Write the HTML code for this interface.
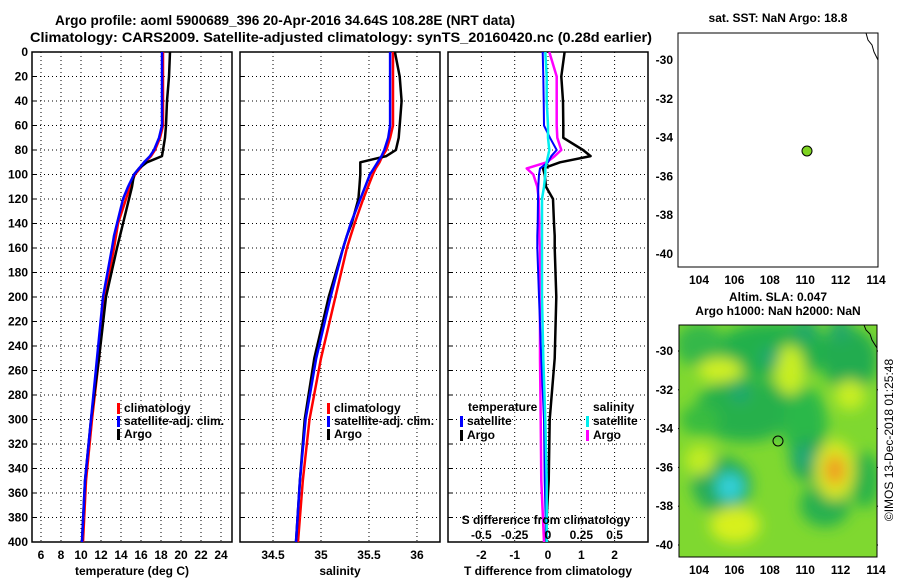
<!DOCTYPE html>
<html><head><meta charset="utf-8"><style>
body{margin:0;background:#fff}
svg{display:block;font-family:"Liberation Sans",sans-serif;font-weight:bold}
text{font-size:12px;fill:#000}
</style></head><body>
<svg id="s" width="900" height="580" viewBox="0 0 900 580">
<defs>
<filter id="bl" x="-50%" y="-50%" width="200%" height="200%"><feGaussianBlur stdDeviation="7"/></filter>
<clipPath id="mc"><rect x="679" y="325" width="198" height="232"/></clipPath>
</defs>
<text x="55" y="25" textLength="460" lengthAdjust="spacingAndGlyphs" style="font-size:14px">Argo profile: aoml 5900689_396 20-Apr-2016 34.64S 108.28E (NRT data)</text>
<text x="30" y="42" textLength="622" lengthAdjust="spacingAndGlyphs" style="font-size:14px">Climatology: CARS2009. Satellite-adjusted climatology: synTS_20160420.nc (0.28d earlier)</text>
<g id="g"></g>
<rect x="678" y="33" width="200" height="234" fill="#fff" stroke="#000"/>
<text x="778" y="22" text-anchor="middle">sat. SST: NaN Argo: 18.8</text>
<path d="M866 33 L868 40 L872 45 L874 52 L878 60" fill="none" stroke="#000"/>
<circle cx="807" cy="151" r="5" fill="#7ed321" stroke="#000"/>
<text x="778" y="301" text-anchor="middle">Altim. SLA: 0.047</text>
<text x="778" y="315" text-anchor="middle">Argo h1000: NaN h2000: NaN</text>
<g clip-path="url(#mc)">
<rect x="679" y="325" width="198" height="232" fill="#7fd830"/>
<g filter="url(#bl)">
<ellipse cx="775" cy="350" rx="60" ry="28" fill="#24b04c"/>
<ellipse cx="700" cy="345" rx="25" ry="22" fill="#34b848"/>
<ellipse cx="850" cy="360" rx="28" ry="32" fill="#24ac50"/>
<ellipse cx="745" cy="410" rx="50" ry="32" fill="#26b04c"/>
<ellipse cx="805" cy="425" rx="22" ry="38" fill="#2cb848"/>
<ellipse cx="810" cy="460" rx="20" ry="22" fill="#20a858"/>
<ellipse cx="722" cy="485" rx="30" ry="28" fill="#26ac58"/>
<ellipse cx="825" cy="505" rx="25" ry="22" fill="#26b050"/>
<ellipse cx="865" cy="480" rx="15" ry="28" fill="#2cb448"/>
<ellipse cx="700" cy="420" rx="20" ry="15" fill="#38bc40"/>
<ellipse cx="720" cy="370" rx="22" ry="12" fill="#d0f020"/>
<ellipse cx="735" cy="525" rx="25" ry="18" fill="#d8f01c"/>
<ellipse cx="790" cy="370" rx="15" ry="25" fill="#c8ee20"/>
<ellipse cx="850" cy="395" rx="15" ry="15" fill="#c8ee20"/>
<ellipse cx="700" cy="460" rx="15" ry="15" fill="#c0ec22"/>
<ellipse cx="835" cy="470" rx="20" ry="30" fill="#d8e820"/>
<ellipse cx="835" cy="470" rx="10" ry="15" fill="#f09a20"/>
<ellipse cx="730" cy="487" rx="14" ry="14" fill="#30d0d8"/>
<ellipse cx="806" cy="330" rx="12" ry="12" fill="#22a868"/>
<ellipse cx="840" cy="330" rx="12" ry="12" fill="#22a868"/>
<ellipse cx="770" cy="357" rx="10" ry="10" fill="#20a870"/>
<ellipse cx="740" cy="393" rx="10" ry="10" fill="#20a870"/>
<ellipse cx="804" cy="457" rx="10" ry="10" fill="#20a878"/>
</g>
</g>
<rect x="679" y="325" width="198" height="232" fill="none" stroke="#000"/>
<path d="M864 325 L866 330 L870 334 L872 340 L877 348" fill="none" stroke="#000"/>
<circle cx="778" cy="441" r="5" fill="none" stroke="#000"/>
<text x="893" y="440" text-anchor="middle" transform="rotate(-90 893 440)" style="font-weight:normal;font-size:12px">©IMOS 13-Dec-2018 01:25:48</text>
</svg>
<script>
const depths=[0,20,40,60,70,80,85,90,95,100,110,120,140,150,160,200,250,300,350,400];
const tClim=[18.2,18.2,18.2,18.2,17.9,17.4,17.0,16.4,15.9,15.4,14.9,14.5,13.7,13.5,13.3,12.4,11.8,11.1,10.5,10.2];
const tSat=[18.1,18.1,18.1,18.1,17.8,17.3,16.9,16.3,15.8,15.3,14.7,14.2,13.6,13.3,13.1,12.2,11.6,11.0,10.4,10.1];
const tArgo=[18.9,18.8,18.6,18.5,18.4,18.2,18.1,16.6,15.8,15.3,15.1,14.8,14.2,13.9,13.6,12.5,11.8,11.0,10.4,10.1];
const sClim=[35.75,35.75,35.75,35.75,35.72,35.68,35.64,35.61,35.57,35.54,35.49,35.44,35.35,35.31,35.27,35.15,35.0,34.88,34.81,34.76];
const sSat=[35.72,35.72,35.72,35.72,35.70,35.66,35.63,35.59,35.55,35.51,35.46,35.41,35.31,35.27,35.23,35.1,34.95,34.84,34.78,34.74];
const sArgo=[35.77,35.82,35.84,35.82,35.81,35.78,35.68,35.41,35.41,35.41,35.40,35.39,35.32,35.27,35.23,35.08,34.93,34.83,34.78,34.74];
const dtSat=[-0.16,-0.14,-0.13,-0.12,0.06,0.26,0.1,0.0,-0.24,-0.27,-0.29,-0.3,-0.31,-0.32,-0.32,-0.27,-0.2,-0.12,-0.1,-0.05];
const dtArgo=[0.5,0.4,0.45,0.46,0.46,1.05,1.28,0.36,-0.15,-0.1,-0.06,0.15,0.18,0.2,0.2,0.25,0.2,0.05,0.02,-0.08];
const dsSat=[-0.02,-0.01,-0.01,0.0,0.0,0.01,0.0,-0.01,-0.02,-0.02,-0.03,-0.045,-0.045,-0.045,-0.045,-0.045,-0.035,-0.02,-0.01,-0.01];
const dsArgo=[0.01,0.065,0.065,0.065,0.07,0.1,0.05,-0.01,-0.16,-0.11,-0.08,-0.07,-0.065,-0.065,-0.06,-0.06,-0.06,-0.055,-0.05,-0.03];
const depthTicks=[0,20,40,60,80,100,120,140,160,180,200,220,240,260,280,300,320,340,360,380,400];
const tTicks=[6,8,10,12,14,16,18,20,22,24];
const sTicks=[34.5,35,35.5,36];
const dTTicks=[-2,-1,0,1,2];
const dSTicks=[-0.5,-0.25,0,0.25,0.5];
const lonTicks=[104,106,108,110,112,114];
const latTicks=[-30,-32,-34,-36,-38,-40];

const NS='http://www.w3.org/2000/svg';
const G=document.getElementById('g');
function mk(tag,a,p){const e=document.createElementNS(NS,tag);for(const k in a)e.setAttribute(k,a[k]);(p||G).appendChild(e);return e;}
function txt(x,y,s,anchor,p){const e=mk('text',{x:x,y:y,'text-anchor':anchor||'middle'},p);e.textContent=s;return e;}
const yD=d=>52+d*1.225;
function lin(d0,d1,r0,r1){return v=>r0+(v-d0)/(d1-d0)*(r1-r0);}
const panels=[
 {x0:32,x1:232,sc:lin(5.1,25.1,32,232),ticks:tTicks,lab:'temperature (deg C)',name:'temperature-panel'},
 {x0:240,x1:440,sc:lin(34.156,36.24,240,440),ticks:sTicks,lab:'salinity',name:'salinity-panel'},
 {x0:448,x1:648,sc:lin(0,1,548,581.3),ticks:dTTicks,lab:'T difference from climatology',name:'difference-panel'}];
panels.forEach((P,i)=>{
 const g=mk('g',{});
 
 
 depthTicks.forEach(d=>{
  if(d>0&&d<400){const l=mk('line',{x1:P.x0,x2:P.x1,y1:yD(d),y2:yD(d),stroke:'#000','stroke-dasharray':'1 3'},g);
  }
  mk('line',{x1:P.x0,x2:P.x0+4,y1:yD(d),y2:yD(d),stroke:'#000'},g);
  if(i==0){const t=txt(28,yD(d)+4,d,'end',g);}
 });
 P.ticks.forEach(v=>{const x=P.sc(v);
  const l=mk('line',{x1:x,x2:x,y1:52,y2:542,stroke:'#000','stroke-dasharray':'1 3'},g);
  
  const t=txt(x,559,v,'middle',g);});
 const r=mk('rect',{x:P.x0,y:52,width:P.x1-P.x0,height:490,fill:'none',stroke:'#000','stroke-width':1.5},g);
 
 const t=txt((P.x0+P.x1)/2,575,P.lab,'middle',g);
});
function line(vals,sc,col,w,name){
 const pts=vals.map((v,k)=>sc(v).toFixed(1)+','+yD(depths[k]).toFixed(1)).join(' ');
 const e=mk('polyline',{points:pts,fill:'none',stroke:col,'stroke-width':w,'stroke-linejoin':'round'});
 
 
}
const sT=panels[0].sc,sS=panels[1].sc,sD=panels[2].sc,sDS=lin(0,1,548,681.3);
line(tClim,sT,'#f00',2.5,'temp-climatology-line');
line(tArgo,sT,'#000',2.5,'temp-argo-line');
line(tSat,sT,'#00f',2.5,'temp-satellite-line');
line(sClim,sS,'#f00',2.5,'sal-climatology-line');
line(sArgo,sS,'#000',2.5,'sal-argo-line');
line(sSat,sS,'#00f',2.5,'sal-satellite-line');
line(dtArgo,sD,'#000',2.5,'tdiff-argo-line');
line(dsArgo,sDS,'#f0f',2.5,'sdiff-argo-line');
line(dtSat,sD,'#00f',2,'tdiff-satellite-line');
line(dsSat,sDS,'#0ee',2.5,'sdiff-satellite-line');
function leg(x,y,col,s,name){const r=mk('rect',{x:x,y:y-9,width:3,height:11,fill:col});
 
 const t=txt(x+7,y,s,'start');}
leg(117,412,'#f00','climatology','legend-climatology');
leg(117,425,'#00f','satellite-adj. clim.','legend-satellite');
leg(117,438,'#000','Argo','legend-argo');
leg(327,412,'#f00','climatology','legend-sal-climatology');
leg(327,425,'#00f','satellite-adj. clim.','legend-sal-satellite');
leg(327,438,'#000','Argo','legend-sal-argo');
let t=txt(468,411,'temperature','start');
leg(460,425,'#00f','satellite','legend-tdiff-satellite');
leg(460,439,'#000','Argo','legend-tdiff-argo');
t=txt(593,411,'salinity','start');
leg(586,425,'#0ee','satellite','legend-sdiff-satellite');
leg(586,439,'#f0f','Argo','legend-sdiff-argo');
t=txt(546,524,'S difference from climatology');
dSTicks.forEach(v=>{const e=txt(sDS(v),539,v);});
const lonS1=lin(104,114,699,876),latS1=lin(-30,-40,60,254);
const lonS2=lin(104,114,699,876),latS2=lin(-30,-40,351,545);
[[lonS1,latS1,267,33,'sst'],[lonS2,latS2,557,325,'sla']].forEach(([lx,ly,yb,yt,n])=>{
 lonTicks.forEach(v=>{const x=lx(v);mk('line',{x1:x,x2:x,y1:yb,y2:yb-4,stroke:'#000'});mk('line',{x1:x,x2:x,y1:yt,y2:yt+4,stroke:'#000'});
  const e=txt(x,yb+17,v);});
 latTicks.forEach(v=>{const y=ly(v);mk('line',{x1:678,x2:682,y1:y,y2:y,stroke:'#000'});mk('line',{x1:874,x2:878,y1:y,y2:y,stroke:'#000'});
  const e=txt(673,y+4,v,'end');});
});
</script>
</body></html>
